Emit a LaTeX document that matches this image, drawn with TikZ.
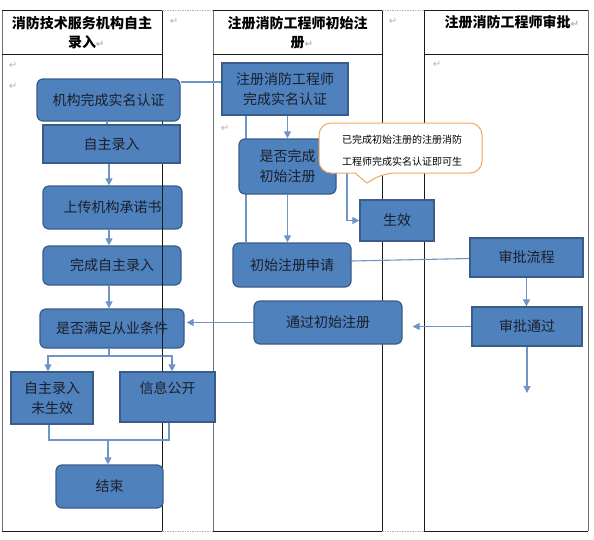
\documentclass[tikz,border=0pt]{standalone}
\usepackage{fontspec}
\setmainfont{Noto Sans CJK SC}
\newfontfamily\dvfont{DejaVu Sans}
\usetikzlibrary{arrows.meta,calc}
\pgfdeclarelayer{tablelayer}
\pgfdeclarelayer{connlayer}
\pgfsetlayers{tablelayer,connlayer,main}
\definecolor{boxfill}{HTML}{4F81BD}
\definecolor{boxborder}{HTML}{385D8A}
\definecolor{boxtext}{HTML}{1A1F2B}
\definecolor{linec}{HTML}{6F94C8}
\definecolor{calloutc}{HTML}{F0A860}
\definecolor{retc}{HTML}{B4B4B4}
\definecolor{gridc}{HTML}{1A1A1A}
\definecolor{gridg}{HTML}{707070}
\newcommand\retmk{{\dvfont\color{retc}\fontsize{10}{10}\selectfont ↵}}
\tikzset{
  box/.style={draw=boxborder, fill=boxfill, line width=1.2pt, inner sep=0pt, align=center,
    font=\fontsize{14}{20}\selectfont, text=boxtext},
  rbox/.style={box, rounded corners=6pt},
  conn/.style={draw=linec, line width=1.1pt},
  arr/.style={conn, -{Triangle[length=7pt,width=7pt]}},
  head/.style={align=center, inner sep=0pt, font=\fontsize{14}{19}\selectfont\bfseries, text=black},
  grid/.style={draw=gridc, line width=0.9pt},
  gridgray/.style={draw=gridg, line width=0.9pt},
  gapline/.style={draw=retc, line width=0.6pt, dash pattern=on 1.5pt off 1pt},
  retnode/.style={inner sep=0pt}
}
\begin{document}
\begin{tikzpicture}[x=1pt,y=-1pt]
\useasboundingbox (0,0) rectangle (594,539);
\begin{pgfonlayer}{tablelayer}
\fill[white] (0,0) rectangle (594,539);
\draw[gridgray] (2,10) -- (2,531);
\draw[grid] (2,10) -- (162,10);
\draw[grid] (2,531) -- (162,531);
\draw[grid] (2,54) -- (162,54);
\draw[grid] (162,10) -- (162,531);
\draw[gridgray] (213,10) -- (213,531);
\draw[grid] (213,10) -- (382,10);
\draw[grid] (213,531) -- (382,531);
\draw[grid] (213,54) -- (382,54);
\draw[grid] (382,10) -- (382,531);
\draw[grid] (424,10) -- (424,531);
\draw[grid] (424,10) -- (588,10);
\draw[grid] (424,531) -- (588,531);
\draw[grid] (424,54) -- (588,54);
\draw[gridgray] (588,10) -- (588,531);
\draw[gapline] (162,10) -- (213,10);
\draw[gapline] (162,531) -- (213,531);
\draw[gapline] (382,10) -- (424,10);
\draw[gapline] (382,531) -- (424,531);
\end{pgfonlayer}
% headers
\node[head] (h1) at (82,33) {消防技术服务机构自主\\录入\rlap{\retmk}};
\node[head] (h2) at (297.5,33) {注册消防工程师初始注\\册\rlap{\retmk}};
\node[head] (h3) at (507.5,22) {注册消防工程师审批\rlap{\retmk}};
% stray paragraph marks
\node[retnode] (r1) at (13,65) {\retmk};
\node[retnode] (r2) at (13,86) {\retmk};
\node[retnode] (r3) at (174,21) {\retmk};
\node[retnode] (r4) at (393,21) {\retmk};
\node[retnode] (r5) at (437,64) {\retmk};
\node[retnode] (r6) at (225,128) {\retmk};
% column 1
\node[rbox, minimum width=143, minimum height=42] (n1) at (108.5,100) {机构完成实名认证};
\node[box, minimum width=137, minimum height=38] (n2) at (111.5,144) {自主录入};
\node[rbox, minimum width=139, minimum height=43] (n3) at (112.5,207.5) {上传机构承诺书};
\node[rbox, minimum width=138, minimum height=39] (n4) at (112,265.5) {完成自主录入};
\node[rbox, minimum width=144, minimum height=39] (n5) at (112,328.5) {是否满足从业条件};
% table line showing over the boxes n3-n5
\draw[grid] (162,180) -- (162,356);
\node[box, minimum width=82, minimum height=52] (n6) at (52,398) {自主录入\\未生效};
\node[box, minimum width=95, minimum height=50, text depth=18pt] (n7) at (167.5,397) {信息公开};
\node[rbox, minimum width=107, minimum height=43] (n8) at (109.5,486.5) {结束};
% column 2
\node[box, minimum width=126, minimum height=52] (n9) at (285,89) {注册消防工程师\\完成实名认证};
\node[rbox, minimum width=97, minimum height=55] (n10) at (287.5,166.5) {是否完成\\初始注册};
\node[box, minimum width=74, minimum height=41] (n11) at (397,220.5) {生效};
\node[rbox, minimum width=118, minimum height=44] (n12) at (292,265) {初始注册申请};
\node[rbox, minimum width=148, minimum height=43] (n13) at (328,322.5) {通过初始注册};
% column 3
\node[box, minimum width=113, minimum height=39] (n14) at (526.5,257.5) {审批流程};
\node[box, minimum width=110, minimum height=39] (n15) at (527,326.5) {审批通过};
% connectors
\begin{pgfonlayer}{connlayer}
\draw[conn] ([xshift=-1.5pt]n1.south) -- ([xshift=-1.5pt]n1.south |- n2.north);
\draw[conn] ([yshift=18pt]n1.east) -- ([yshift=7pt]n9.west);
\draw[arr] ([xshift=-2.5pt]n2.south) -- ([xshift=-2.5pt]n2.south |- n3.north);
\draw[arr] ([xshift=-3.5pt]n3.south) -- ([xshift=-3.5pt]n3.south |- n4.north);
\draw[arr] ([xshift=-3pt]n4.south) -- ([xshift=-3pt]n4.south |- n5.north);
\coordinate (b1) at (109,356);
\draw[conn] (n5.south -| b1) -- (b1);
\draw[arr] (b1) -| ([xshift=-4pt]n6.north);
\draw[arr] (b1) -| ([xshift=4.5pt]n7.north);
\coordinate (b2) at (108,440);
\draw[conn] ([xshift=-3pt]n6.south) |- (b2) -| ([xshift=1.5pt]n7.south);
\draw[arr] (b2) -- (b2 |- n8.north);
\draw[conn] ([xshift=-39pt]n9.south) -- ([xshift=-39pt]n9.south |- n12.north);
\draw[arr] (n10 |- n9.south) -- (n10.north);
\draw[arr] (n10.south) -- (n10.south |- n12.north);
\coordinate (k1) at (347,166.5);
\draw[arr] (n10.east) -- (k1) |- (n11.west);
\draw[conn] ([yshift=4pt]n12.east) -- ([yshift=-1pt]n14.west);
\draw[arr] (n14.south) -- (n14.south |- n15.north);
\draw[arr, shorten >=10pt] (n15.west) -- (n15.west -| n13.east);
\draw[arr, shorten >=2pt] (n13.west) -- (n13.west -| n5.east);
\coordinate (e1) at (527,393);
\draw[arr] (n15.south) -- (e1);
\end{pgfonlayer}
% callout
\draw[draw=calloutc, fill=white, line width=1pt, rounded corners=12pt]
  (319,150) |- (482,123) |- (383,173) [sharp corners] -- (367,183) -- (355,173) [rounded corners=12pt] -| cycle;
\node[align=left, inner sep=0pt, font=\fontsize{10}{22}\selectfont, text=black] (co) at (402,151)
  {已完成初始注册的注册消防\\工程师完成实名认证即可生};
\end{tikzpicture}
\end{document}
